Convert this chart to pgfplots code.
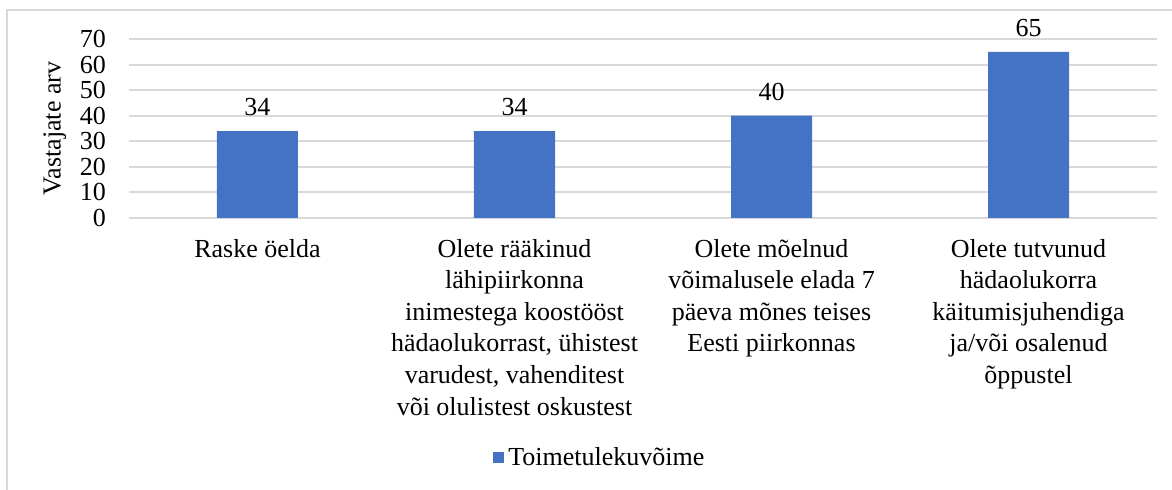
\documentclass[border=0pt]{standalone}
\usepackage{fontspec}
\setmainfont{Liberation Serif}
\usepackage{pgfplots}
\pgfplotsset{compat=1.18}
\definecolor{barblue}{HTML}{4472C4}
\definecolor{gridgray}{HTML}{D9D9D9}

\begin{document}
\fontsize{13}{15.8}\selectfont
\begin{tikzpicture}
\begin{axis}[
  at={(0,0)}, anchor=south west,
  scale only axis, width=514pt, height=89.5pt,
  ybar, bar width=40.5pt,
  xmin=-0.5, xmax=3.5, ymin=0, ymax=70,
  xtick={0,1,2,3}, ytick={0,10,...,70},
  xticklabels={
    Raske öelda,
    {Olete rääkinud\\lähipiirkonna\\inimestega koostööst\\hädaolukorrast, ühistest\\varudest, vahenditest\\või olulistest oskustest},
    {Olete mõelnud\\võimalusele elada 7\\päeva mõnes teises\\Eesti piirkonnas},
    {Olete tutvunud\\hädaolukorra\\käitumisjuhendiga\\ja/või osalenud\\õppustel}},
  xticklabel style={align=center, font=\fontsize{13}{15.8}\selectfont, yshift=-6pt},
  yticklabel style={font=\fontsize{13}{13}\selectfont, xshift=-7pt},
  /pgf/number format/assume math mode=true,
  axis line style={draw=none}, major tick length=0pt,
  ymajorgrids, grid style={gridgray, line width=1pt},
  ylabel={Vastajate arv},
  ylabel style={font=\fontsize{13}{13}\selectfont, at={(ticklabel cs:0.5)}, anchor=south, yshift=-2pt},
  nodes near coords,
  nodes near coords style={font=\fontsize{13}{13}\selectfont, yshift=3pt},
  legend style={at={(0.459,-1.341)}, anchor=center, draw=none, fill=none,
    font=\fontsize{13}{13}\selectfont, inner sep=0pt},
  legend image code/.code={\fill[barblue] (0pt,-2.7pt) rectangle (5.5pt,2.8pt);},
]
\addplot[fill=barblue, draw=none] coordinates {(0,34) (1,34) (2,40) (3,65)};
\legend{Toimetulekuvõime}
\end{axis}
\draw[gridgray, line width=1pt] (-61pt,-140pt) -- (-61pt,104pt) -- (525pt,104pt);
\pgfresetboundingbox
\path[use as bounding box] (-64.5pt,-136pt) rectangle (521.5pt,109pt);
\end{tikzpicture}
\end{document}
